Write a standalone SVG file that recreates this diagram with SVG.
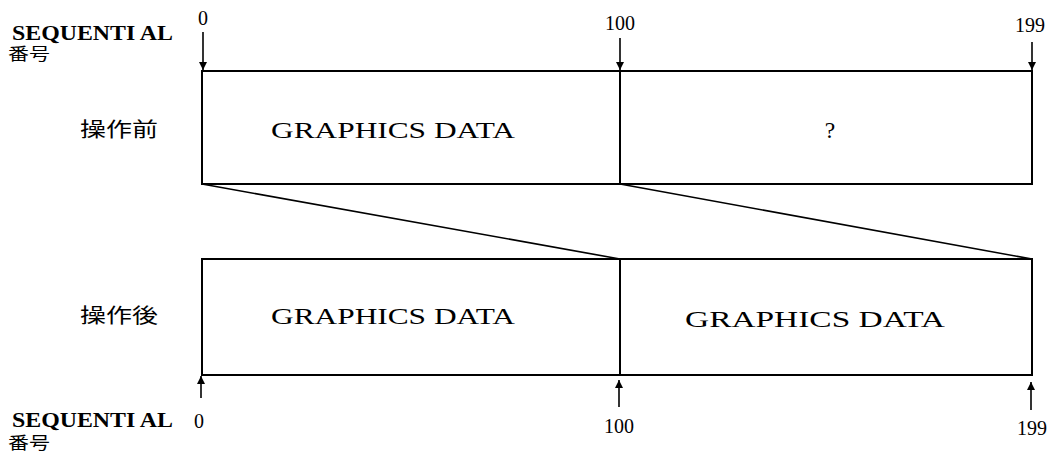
<svg xmlns="http://www.w3.org/2000/svg" width="1056" height="459" viewBox="0 0 1056 459">
<style>
.box{fill:none;stroke:#000;stroke-width:2}
.ln{stroke:#000;stroke-width:1.6;fill:none}
.t{font-family:"Liberation Serif","Noto Sans CJK JP",serif;fill:#000}
.seq{font-weight:bold;font-size:20px}
.jp{font-family:"Noto Sans CJK JP","Noto Sans CJK SC",sans-serif;fill:#000}
.gd{font-size:23.5px}
.num{font-size:20px}
</style>
<defs>
<marker id="ah" viewBox="0 0 10 10" refX="10" refY="5" markerWidth="5.5" markerHeight="5" orient="auto" markerUnits="strokeWidth">
<path d="M0,0 L10,5 L0,10 z" fill="#000"/>
</marker>
</defs>
<rect width="1056" height="459" fill="#fff"/>
<g id="labels-top">
<text class="t seq" x="12" y="39.5" textLength="161" lengthAdjust="spacingAndGlyphs">SEQUENTI AL</text>
<text class="jp" x="8" y="60" font-size="16.5" textLength="42" lengthAdjust="spacingAndGlyphs">番号</text>
<text class="t num" x="203" y="25" text-anchor="middle">0</text>
<text class="t num" x="620" y="30" text-anchor="middle">100</text>
<text class="t num" x="1030" y="32" text-anchor="middle">199</text>
</g>
<g id="node-before">
<rect class="box" x="202" y="71" width="830" height="113"/>
<line class="box" x1="620" y1="71" x2="620" y2="184"/>
<text class="jp" x="80" y="137" font-size="20" textLength="78" lengthAdjust="spacingAndGlyphs">操作前</text>
<text class="t gd" x="271" y="137.5" textLength="244" lengthAdjust="spacingAndGlyphs">GRAPHICS DATA</text>
<text class="t gd" x="830" y="138" text-anchor="middle" font-size="21">?</text>
</g>
<g id="node-after">
<rect class="box" x="202" y="259" width="830" height="116"/>
<line class="box" x1="620" y1="259" x2="620" y2="375"/>
<text class="jp" x="80" y="323" font-size="20" textLength="78" lengthAdjust="spacingAndGlyphs">操作後</text>
<text class="t gd" x="271" y="324" textLength="244" lengthAdjust="spacingAndGlyphs">GRAPHICS DATA</text>
<text class="t gd" x="685" y="326.5" textLength="260" lengthAdjust="spacingAndGlyphs">GRAPHICS DATA</text>
</g>
<g id="labels-bottom">
<text class="t seq" x="12" y="427" textLength="161" lengthAdjust="spacingAndGlyphs">SEQUENTI AL</text>
<text class="jp" x="8" y="449" font-size="17" textLength="42" lengthAdjust="spacingAndGlyphs">番号</text>
<text class="t num" x="199" y="428" text-anchor="middle">0</text>
<text class="t num" x="619" y="433" text-anchor="middle">100</text>
<text class="t num" x="1032" y="435" text-anchor="middle">199</text>
</g>
<g id="connectors">
<line class="ln" x1="202" y1="184" x2="620" y2="259"/>
<line class="ln" x1="620" y1="184" x2="1032" y2="259"/>
<line class="ln" x1="203" y1="32" x2="203" y2="70" marker-end="url(#ah)"/>
<line class="ln" x1="620" y1="38" x2="620" y2="70" marker-end="url(#ah)"/>
<line class="ln" x1="1032" y1="42" x2="1032" y2="70" marker-end="url(#ah)"/>
<line class="ln" x1="201" y1="398" x2="201" y2="376" marker-end="url(#ah)"/>
<line class="ln" x1="619" y1="407" x2="619" y2="380" marker-end="url(#ah)"/>
<line class="ln" x1="1031" y1="410" x2="1031" y2="382" marker-end="url(#ah)"/>
</g>
</svg>
